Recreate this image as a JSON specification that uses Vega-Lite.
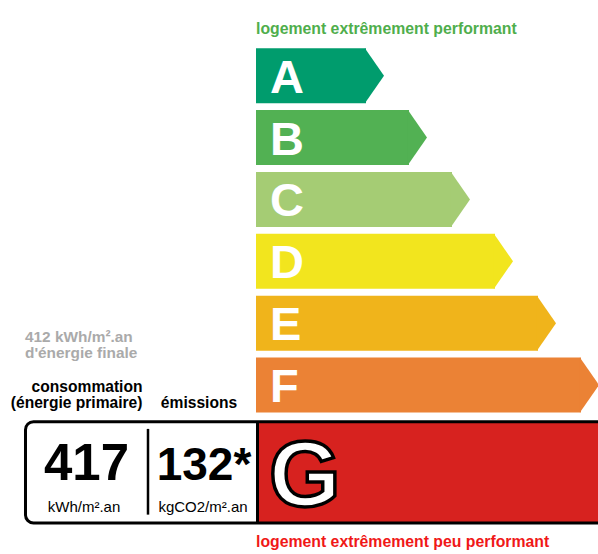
{
  "$schema": "https://vega.github.io/schema/vega-lite/v6.json",
  "width": 598,
  "height": 554,
  "padding": 0,
  "autosize": {"type": "none"},
  "background": "white",
  "config": {"view": {"stroke": null}, "axis": {"disable": true}, "legend": {"disable": true}},
  "datasets": {
    "classes": [
      {"classe": "A", "rang": 1},
      {"classe": "B", "rang": 2},
      {"classe": "C", "rang": 3},
      {"classe": "D", "rang": 4},
      {"classe": "E", "rang": 5},
      {"classe": "F", "rang": 6},
      {"classe": "G", "rang": 7}
    ],
    "logement": [
      {"classe": "G", "ep": 417, "ef": 412, "ges": 132, "ges_libelle": "132*"}
    ]
  },
  "layer": [
    {
      "data": {"name": "classes"},
      "transform": [{"filter": "datum.rang <= 6"}],
      "mark": {"type": "bar", "orient": "horizontal", "size": 55},
      "encoding": {
        "x": {"field": "rang", "type": "quantitative", "axis": null, "scale": {"domain": [-7.5116, 6.3953], "nice": false, "zero": false}},
        "x2": {"datum": -1.5581},
        "y": {"field": "rang", "type": "quantitative", "axis": null, "scale": {"domain": [-0.142857, 8.650794], "reverse": true, "nice": false, "zero": false}},
        "color": {"field": "classe", "type": "nominal", "legend": null, "scale": {"domain": ["A", "B", "C", "D", "E", "F", "G"], "range": ["#009C6D", "#52B153", "#A5CC74", "#F2E51E", "#F0B41B", "#EB8235", "#D7221F"]}}
      }
    },
    {
      "data": {"name": "classes"},
      "transform": [{"filter": "datum.rang <= 6"}],
      "mark": {"type": "point", "filled": true, "opacity": 1, "strokeWidth": 0, "shape": "M-0.04,-1L0.6545,0L-0.04,1Z", "size": 3025},
      "encoding": {
        "x": {"field": "rang", "type": "quantitative"},
        "y": {"field": "rang", "type": "quantitative"},
        "color": {"field": "classe", "type": "nominal", "legend": null}
      }
    },
    {
      "data": {"name": "classes"},
      "transform": [{"filter": "datum.rang <= 6"}],
      "mark": {"type": "text", "align": "left", "baseline": "alphabetic", "dy": 17, "font": "Liberation Sans", "fontWeight": "bold", "fontSize": 47, "fill": "white"},
      "encoding": {
        "x": {"datum": -1.2326, "type": "quantitative"},
        "y": {"field": "rang", "type": "quantitative"},
        "text": {"field": "classe"}
      }
    },
    {
      "data": {"name": "classes"},
      "transform": [{"filter": "datum.rang == 7"}],
      "mark": {"type": "rect"},
      "encoding": {
        "x": {"datum": -1.4884, "type": "quantitative"},
        "x2": {"datum": 7},
        "y": {"datum": 6.5921, "type": "quantitative"},
        "y2": {"datum": 8.2302},
        "color": {"field": "classe", "type": "nominal", "legend": null}
      }
    },
    {
      "data": {"name": "logement"},
      "mark": {"type": "rect", "filled": false, "stroke": "black", "strokeWidth": 3, "cornerRadius": 8},
      "encoding": {
        "x": {"datum": -6.9186, "type": "quantitative"},
        "x2": {"datum": 7},
        "y": {"datum": 6.5921, "type": "quantitative"},
        "y2": {"datum": 8.2302}
      }
    },
    {
      "data": {"name": "logement"},
      "mark": {"type": "rule", "color": "black", "strokeWidth": 3},
      "encoding": {
        "x": {"datum": -1.5233, "type": "quantitative"},
        "y": {"datum": 6.5921, "type": "quantitative"},
        "y2": {"datum": 8.2302}
      }
    },
    {
      "data": {"name": "logement"},
      "mark": {"type": "rule", "color": "black", "strokeWidth": 2.5},
      "encoding": {
        "x": {"datum": -4.0698, "type": "quantitative"},
        "y": {"datum": 6.7095, "type": "quantitative"},
        "y2": {"datum": 8.0952}
      }
    },
    {
      "data": {"name": "logement"},
      "mark": {"type": "text", "align": "left", "baseline": "alphabetic", "font": "Liberation Sans", "fontWeight": "bold", "fontSize": 15.8, "fill": "#4fae4c", "text": "logement extrêmement performant"},
      "encoding": {
        "x": {"datum": -1.5581, "type": "quantitative"},
        "y": {"datum": 0.3254, "type": "quantitative"}
      }
    },
    {
      "data": {"name": "logement"},
      "mark": {"type": "text", "align": "left", "baseline": "alphabetic", "font": "Liberation Sans", "fontWeight": "bold", "fontSize": 15.8, "fill": "#f01818", "text": "logement extrêmement peu performant"},
      "encoding": {
        "x": {"datum": -1.5581, "type": "quantitative"},
        "y": {"datum": 8.619, "type": "quantitative"}
      }
    },
    {
      "data": {"name": "logement"},
      "mark": {"type": "text", "align": "left", "baseline": "alphabetic", "font": "Liberation Sans", "fontWeight": "bold", "fontSize": 15.4, "lineHeight": 16.5, "fill": "#aaaaaa", "text": ["412 kWh/m².an", "d'énergie finale"]},
      "encoding": {
        "x": {"datum": -6.9302, "type": "quantitative"},
        "y": {"datum": 5.3016, "type": "quantitative"}
      }
    },
    {
      "data": {"name": "logement"},
      "mark": {"type": "text", "align": "right", "baseline": "alphabetic", "font": "Liberation Sans", "fontWeight": "bold", "fontSize": 15.6, "lineHeight": 15.5, "fill": "black", "text": ["consommation", "(énergie primaire)"]},
      "encoding": {
        "x": {"datum": -4.1977, "type": "quantitative"},
        "y": {"datum": 6.119, "type": "quantitative"}
      }
    },
    {
      "data": {"name": "logement"},
      "mark": {"type": "text", "align": "center", "baseline": "alphabetic", "font": "Liberation Sans", "fontWeight": "bold", "fontSize": 15.6, "fill": "black", "text": "émissions"},
      "encoding": {
        "x": {"datum": -2.8837, "type": "quantitative"},
        "y": {"datum": 6.3651, "type": "quantitative"}
      }
    },
    {
      "data": {"name": "logement"},
      "mark": {"type": "text", "align": "center", "baseline": "alphabetic", "font": "Liberation Sans", "fontWeight": "bold", "fontSize": 51, "fill": "black"},
      "encoding": {
        "x": {"datum": -5.5, "type": "quantitative"},
        "y": {"datum": 7.5397, "type": "quantitative"},
        "text": {"field": "ep", "type": "quantitative", "format": "d"}
      }
    },
    {
      "data": {"name": "logement"},
      "mark": {"type": "text", "align": "center", "baseline": "alphabetic", "font": "Liberation Sans", "fontWeight": "bold", "fontSize": 46, "fill": "black"},
      "encoding": {
        "x": {"datum": -2.7674, "type": "quantitative"},
        "y": {"datum": 7.5397, "type": "quantitative"},
        "text": {"field": "ges_libelle"}
      }
    },
    {
      "data": {"name": "logement"},
      "mark": {"type": "text", "align": "center", "baseline": "alphabetic", "font": "Liberation Sans", "fontSize": 15, "fill": "black", "text": "kWh/m².an"},
      "encoding": {
        "x": {"datum": -5.5581, "type": "quantitative"},
        "y": {"datum": 8.0556, "type": "quantitative"}
      }
    },
    {
      "data": {"name": "logement"},
      "mark": {"type": "text", "align": "center", "baseline": "alphabetic", "font": "Liberation Sans", "fontSize": 15, "fill": "black", "text": "kgCO2/m².an"},
      "encoding": {
        "x": {"datum": -2.7907, "type": "quantitative"},
        "y": {"datum": 8.0556, "type": "quantitative"}
      }
    },
    {
      "data": {"name": "logement"},
      "mark": {"type": "text", "align": "left", "baseline": "alphabetic", "font": "Liberation Sans", "fontWeight": "bold", "fontSize": 92, "fill": "white", "stroke": "black", "strokeWidth": 3.5},
      "encoding": {
        "x": {"datum": -1.2558, "type": "quantitative"},
        "y": {"datum": 7.9524, "type": "quantitative"},
        "text": {"field": "classe"}
      }
    }
  ]
}
